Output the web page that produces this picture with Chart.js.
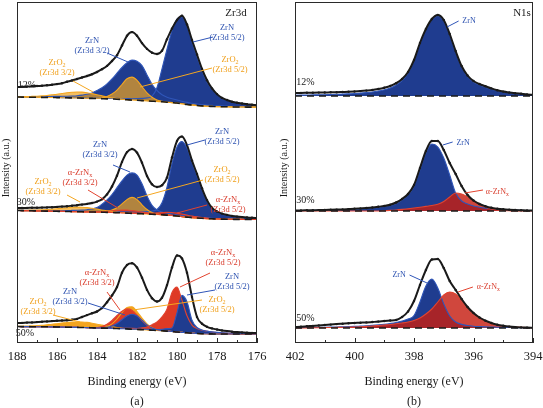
<!DOCTYPE html>
<html>
<head>
<meta charset="utf-8">
<script src="https://cdn.jsdelivr.net/npm/chart.js@4.4.1/dist/chart.umd.min.js"></script>
<style>
    html, body { margin: 0; padding: 0; background: #fff; }
    #wrap { position: relative; width: 543px; height: 408px; }
    canvas { position: absolute; top: 0; }
    #zrChart { left: 0; }
    #nChart { left: 272px; }
</style>
</head>
<body>
<div id="wrap">
    <canvas id="zrChart" width="272" height="408"></canvas>
    <canvas id="nChart" width="271" height="408"></canvas>
</div>
<script>
// Binding energy grids (eV)
const ZR_E = [188, 187.75, 187.5, 187.25, 187, 186.75, 186.5, 186.25, 186, 185.75, 185.5, 185.25,
    185, 184.75, 184.5, 184.25, 184, 183.75, 183.5, 183.25, 183, 182.75, 182.5, 182.25,
    182, 181.75, 181.5, 181.25, 181, 180.75, 180.5, 180.25, 180, 179.75, 179.5, 179.25,
    179, 178.75, 178.5, 178.25, 178, 177.75, 177.5, 177.25, 177, 176.75, 176.5, 176.25, 176];
const N_E = [402, 401.8, 401.6, 401.4, 401.2, 401, 400.8, 400.6, 400.4, 400.2,
    400, 399.8, 399.6, 399.4, 399.2, 399, 398.8, 398.6, 398.4, 398.2,
    398, 397.8, 397.6, 397.4, 397.2, 397, 396.8, 396.6, 396.4, 396.2,
    396, 395.8, 395.6, 395.4, 395.2, 395, 394.8, 394.6, 394.4, 394.2, 394];

const ZR_TICKS = [188, 186, 184, 182, 180, 178, 176];
const N_TICKS = [402, 400, 398, 396, 394];

// Zr3d, 12% : background level + component heights above it
const ZR12_BG = [246, 245.9, 245.8, 245.8, 245.7, 245.6, 245.5, 245.5, 245.4, 245.3, 245.2, 245.1,
    245, 244.9, 244.7, 244.6, 244.5, 244.3, 244.1, 244, 243.8, 243.5, 243.2, 242.9,
    242.7, 242.4, 242.1, 241.8, 241.5, 241.2, 240.8, 240.4, 240, 239.2, 238.5, 238,
    237.5, 237.1, 236.8, 236.6, 236.4, 236.3, 236.2, 236.1, 236, 236, 235.9, 235.9, 235.8];
const ZR12_ENV = [10, 10.3, 10.6, 11, 11.3, 11.7, 12.2, 12.8, 13.5, 14.5, 16, 17.4,
    19, 20.6, 22.3, 24.2, 26.5, 29.5, 33, 38, 44, 54, 64, 68,
    64.5, 57.5, 52, 48.5, 47.5, 51, 63, 74, 83, 88, 80, 65,
    51, 37, 26, 18, 12.5, 8.8, 6.8, 5.2, 4.2, 3.5, 2.9, 2.4, 2];
const ZR12_ZRN52 = [0, 0, 0, 0, 0, 0, 0, 0, 0.1, 0.1, 0.2, 0.2,
    0.2, 0.3, 0.3, 0.4, 0.4, 0.5, 0.6, 0.7, 0.8, 1, 1.2, 1.4,
    1.7, 2.2, 3, 5, 14, 33, 53, 72, 84, 87, 79, 63,
    49, 35, 24.5, 17, 12, 8.5, 6.5, 5, 4, 3.3, 2.7, 2.2, 1.8];
const ZR12_ZRN32 = [0.5, 0.6, 0.6, 0.7, 0.8, 0.9, 1, 1.1, 1.2, 1.4, 1.6, 1.9,
    2.3, 3, 4, 5.5, 8, 11, 15, 20, 26, 32, 37, 40,
    39, 35, 26, 17, 11, 7, 5, 3.8, 3, 2.5, 2.1, 1.8,
    1.5, 1.3, 1.1, 1, 0.9, 0.8, 0.7, 0.6, 0.5, 0.4, 0.4, 0.3, 0.3];
const ZR12_ZRO52 = [0, 0, 0, 0, 0, 0, 0, 0, 0, 0, 0, 0,
    0, 0, 0, 0, 0.2, 0.8, 2.5, 5, 9, 15, 21, 23,
    20, 14, 8, 4, 1.5, 0.5, 0, 0, 0, 0, 0, 0,
    0, 0, 0, 0, 0, 0, 0, 0, 0, 0, 0, 0, 0];
const ZR12_ZRO32 = [0.3, 0.4, 0.6, 0.8, 1.1, 1.5, 2, 2.7, 3.4, 4.2, 5, 5.6,
    6, 6, 5.6, 4.8, 3.8, 2.8, 1.9, 1.2, 0.7, 0.4, 0.2, 0.1,
    0, 0, 0, 0, 0, 0, 0, 0, 0, 0, 0, 0,
    0, 0, 0, 0, 0, 0, 0, 0, 0, 0, 0, 0, 0];

// Zr3d, 30%
const ZR30_BG = [132.5, 132.4, 132.3, 132.2, 132.1, 132, 131.9, 131.8, 131.7, 131.6, 131.5, 131.4,
    131.3, 131.2, 131.1, 131, 130.9, 130.8, 130.6, 130.5, 130.3, 130.1, 129.9, 129.6,
    129.4, 129.2, 129, 128.7, 128.5, 128.2, 127.9, 127.5, 127, 126.4, 125.9, 125.4,
    125, 124.7, 124.4, 124.2, 124, 123.9, 123.8, 123.7, 123.6, 123.6, 123.5, 123.5, 123.5];
const ZR30_ENV = [2.5, 2.6, 2.8, 3, 3.2, 3.4, 3.7, 4, 4.4, 4.8, 5.3, 5.9,
    6.5, 7.2, 8, 9, 10.5, 13, 18, 26, 37, 51, 61, 64.5,
    61, 51, 38, 30, 27.5, 29.5, 37.5, 58, 75, 80, 72, 57,
    44, 30, 18.5, 11, 7.5, 5.5, 4.3, 3.4, 2.8, 2.3, 2, 1.7, 1.5];
const ZR30_ZRN52 = [0, 0, 0, 0, 0, 0, 0, 0, 0.1, 0.1, 0.2, 0.2,
    0.3, 0.3, 0.4, 0.4, 0.5, 0.6, 0.7, 0.8, 0.9, 1, 1.2, 1.4,
    1.6, 1.9, 2.4, 3.2, 5, 12, 28, 52, 69, 75, 69, 55,
    42, 28.5, 17.5, 10.5, 7, 5, 4, 3.2, 2.6, 2.1, 1.8, 1.5, 1.3];
const ZR30_ZRN32 = [0.3, 0.3, 0.4, 0.4, 0.5, 0.5, 0.6, 0.7, 0.8, 0.9, 1, 1.2,
    1.4, 1.7, 2.2, 3, 4.5, 8, 12.5, 18, 25, 32, 38, 40.5,
    38.5, 30, 18, 9, 4.5, 2.8, 2, 1.6, 1.3, 1.1, 1, 0.9,
    0.8, 0.7, 0.6, 0.5, 0.5, 0.4, 0.4, 0.3, 0.3, 0.3, 0.2, 0.2, 0.2];
const ZR30_ZRO52 = [0, 0, 0, 0, 0, 0, 0, 0, 0, 0, 0, 0,
    0, 0, 0, 0, 0, 0.3, 1, 2.5, 5, 9, 13.5, 16,
    14, 9, 4.5, 1.8, 0.6, 0.2, 0, 0, 0, 0, 0, 0,
    0, 0, 0, 0, 0, 0, 0, 0, 0, 0, 0, 0, 0];
const ZR30_ZRO32 = [0.3, 0.4, 0.5, 0.7, 0.9, 1.2, 1.6, 2.1, 2.6, 3.2, 3.8, 4.3,
    4.6, 4.6, 4.3, 3.7, 3, 2.2, 1.5, 0.9, 0.5, 0.3, 0.1, 0,
    0, 0, 0, 0, 0, 0, 0, 0, 0, 0, 0, 0,
    0, 0, 0, 0, 0, 0, 0, 0, 0, 0, 0, 0, 0];
const ZR30_ANA32 = [0, 0, 0, 0, 0, 0, 0, 0, 0, 0, 0, 0,
    0, 0, 0, 0, 0.3, 0.6, 1.1, 1.7, 2.3, 2.8, 3, 2.8,
    2.3, 1.7, 1.1, 0.6, 0.3, 0, 0, 0, 0, 0, 0, 0,
    0, 0, 0, 0, 0, 0, 0, 0, 0, 0, 0, 0, 0];
const ZR30_ANA52 = [0, 0, 0, 0, 0, 0, 0, 0, 0, 0, 0, 0,
    0, 0, 0, 0, 0, 0, 0, 0, 0, 0, 0, 0,
    0.2, 0.4, 0.7, 1.1, 1.6, 2.2, 2.7, 3, 2.9, 2.5, 2, 1.5,
    1.1, 0.8, 0.5, 0.3, 0.2, 0, 0, 0, 0, 0, 0, 0, 0];

// Zr3d, 50%
const ZR50_BG = [16.5, 16.4, 16.4, 16.3, 16.3, 16.2, 16.2, 16.1, 16, 15.9, 15.8, 15.7,
    15.6, 15.5, 15.4, 15.2, 15, 14.9, 14.8, 14.6, 14.5, 14.3, 14.1, 13.8,
    13.5, 13.3, 13.1, 12.8, 12.5, 12.2, 11.9, 11.5, 11, 10.6, 10.2, 9.9,
    9.5, 9.3, 9.2, 9.1, 9, 9, 9, 9, 9, 9, 9, 9, 9];
const ZR50_ENV = [3.5, 3.7, 4, 4.3, 4.6, 5, 5.4, 5.8, 6.2, 6.6, 7, 7.6,
    8.5, 10.5, 12.5, 14.5, 16.5, 20, 26, 33, 41.5, 56, 64, 66,
    62, 52, 40, 32, 29, 33, 46, 64, 76.5, 74, 60, 36,
    16.5, 10, 7, 5.5, 4.5, 3.6, 2.9, 2.3, 1.9, 1.6, 1.3, 1.1, 1];
const ZR50_ZRN52 = [0, 0, 0, 0, 0, 0, 0, 0, 0, 0, 0, 0,
    0, 0, 0, 0, 0, 0, 0, 0, 0, 0, 0, 0,
    0.4, 0.5, 0.6, 0.8, 1, 1.5, 2.5, 3.5, 19, 37, 31, 13,
    6, 3.8, 2.7, 2, 1.6, 1.3, 1, 0.8, 0.7, 0.6, 0.5, 0.4, 0.3];
const ZR50_ZRN32 = [0, 0, 0, 0, 0, 0, 0, 0, 0, 0, 0, 0,
    0, 0, 0, 0, 0, 0.3, 1, 2.5, 5, 9, 13, 15,
    13.5, 9.5, 5, 2.2, 0.8, 0.3, 0, 0, 0, 0, 0, 0,
    0, 0, 0, 0, 0, 0, 0, 0, 0, 0, 0, 0, 0];
const ZR50_ANA52 = [0, 0, 0, 0, 0, 0, 0, 0, 0, 0, 0, 0,
    0, 0, 0, 0, 0, 0, 0, 0, 0.3, 0.5, 0.7, 0.8,
    1, 1.8, 3, 5.5, 8.5, 14, 22, 39, 45, 32, 17, 8,
    5, 3.5, 2.5, 1.9, 1.5, 1.1, 0.8, 0.6, 0.5, 0.4, 0.3, 0.2, 0.2];
const ZR50_ANA32 = [0, 0, 0, 0, 0, 0, 0, 0, 0, 0, 0, 0,
    0, 0, 0, 0, 0.5, 1.5, 4, 8, 13, 17.5, 20, 19,
    14.5, 9, 4.5, 2, 0.8, 0.3, 0, 0, 0, 0, 0, 0,
    0, 0, 0, 0, 0, 0, 0, 0, 0, 0, 0, 0, 0];
const ZR50_ZRO52 = [0, 0, 0, 0, 0, 0, 0, 0, 0, 0, 0, 0,
    0, 0, 0, 0, 0, 0.3, 1.5, 4.5, 9.5, 16, 21.5, 22.5,
    18, 11.5, 6, 2.5, 0.8, 0.2, 0, 0, 0, 0, 0, 0,
    0, 0, 0, 0, 0, 0, 0, 0, 0, 0, 0, 0, 0];
const ZR50_ZRO32 = [0.3, 0.4, 0.6, 0.8, 1.1, 1.5, 2, 2.6, 3.3, 4, 4.7, 5.2,
    5.5, 5.5, 5.2, 4.6, 3.8, 3, 2.2, 1.5, 0.9, 0.5, 0.2, 0.1,
    0, 0, 0, 0, 0, 0, 0, 0, 0, 0, 0, 0,
    0, 0, 0, 0, 0, 0, 0, 0, 0, 0, 0, 0, 0];

// N1s : flat backgrounds (12%, 30%, 50%) + heights above them
const N_BG = [247, 132, 15];
const N12_ENV = [3, 3.1, 3.2, 3.3, 3.4, 3.5, 3.7, 3.8, 4, 4.2,
    4.5, 4.9, 5.4, 6, 7, 8.3, 10, 12.8, 17, 24,
    36, 53, 67, 77, 81, 76, 62, 45, 30, 20.5,
    15, 12, 9.8, 7.6, 5.8, 4.4, 3.5, 2.8, 2.2, 1.6, 1.2];
const N12_ZRN = [0.8, 0.9, 1, 1.1, 1.2, 1.3, 1.5, 1.7, 1.9, 2.2,
    2.5, 2.9, 3.4, 4, 5, 6.3, 8, 11, 15.5, 23,
    35, 52, 66, 76, 80, 75, 61, 44, 29, 19.5,
    14, 11, 8.8, 6.8, 5.2, 4, 3.1, 2.5, 2, 1.5, 1.1];
const N30_ENV = [0.5, 0.6, 0.7, 0.8, 0.9, 1, 1.2, 1.4, 1.6, 1.9,
    2.2, 2.6, 3, 3.5, 4.2, 5, 6.3, 8.5, 12, 17,
    26, 43, 60, 70, 70, 61, 48, 37, 25, 16,
    10.5, 7, 4.8, 3.2, 2.3, 1.7, 1.3, 1, 0.8, 0.6, 0.5];
const N30_ZRN = [0.3, 0.4, 0.5, 0.6, 0.7, 0.8, 0.9, 1.1, 1.3, 1.5,
    1.8, 2.1, 2.5, 3, 3.6, 4.4, 5.6, 7.6, 11, 16,
    24.5, 41, 58, 67, 64, 53, 36, 18, 10, 7,
    5, 3.8, 2.9, 2.2, 1.7, 1.3, 1, 0.8, 0.6, 0.5, 0.4];
const N30_ANA = [0, 0, 0, 0, 0, 0, 0, 0, 0, 0,
    0, 0, 0, 0, 0, 0.3, 0.6, 1, 1.6, 2.3,
    3, 3.8, 4.6, 5.5, 6.8, 9.5, 14, 18, 17, 14,
    10.5, 7, 4, 2, 1, 0.5, 0.2, 0, 0, 0, 0];
const N50_ENV = [1, 1.3, 1.7, 2.1, 2.5, 3, 3.4, 3.9, 4.3, 4.7,
    5, 5.3, 5.6, 6, 6.4, 7, 7.5, 8, 11, 16.5,
    27, 43, 58, 68.5, 69, 60, 47, 38, 29, 21,
    15, 10.5, 7.3, 5, 3.3, 2.2, 1.4, 0.9, 0.6, 0.4, 0.3];
const N50_ZRN = [0.3, 0.4, 0.5, 0.6, 0.7, 0.8, 0.9, 1, 1.2, 1.4,
    1.6, 1.9, 2.2, 2.6, 3.1, 3.7, 4.5, 5.5, 7, 9,
    12.5, 26, 42, 49, 40, 24, 12, 6, 3.6, 2.5,
    1.8, 1.4, 1.1, 0.9, 0.7, 0.6, 0.5, 0.4, 0.3, 0.3, 0.2];
const N50_ANA = [0, 0, 0.1, 0.2, 0.3, 0.4, 0.5, 0.6, 0.7, 0.8,
    0.9, 1.2, 1.6, 2, 2.5, 3, 3.5, 4.2, 5, 6,
    7.5, 10, 14, 19, 26, 33, 36, 34, 28, 21,
    15, 10.5, 7, 4.5, 3, 2, 1.3, 0.9, 0.6, 0.4, 0.3];

// Colours
const INK = '#1a1a1a';
const BLUE = '#1f3c8f';
const BLUE_EDGE = '#2f55b8';
const BLUE_TXT = '#2d52b0';
const ORANGE = '#f3a41f';
const ORANGE_T = 'rgba(240, 163, 28, 0.7)';
const ORANGE_EDGE = '#f4a620';
const ORANGE_TXT = '#f0a01c';
const RED = '#de3a25';
const RED_T = 'rgba(198, 30, 18, 0.82)';
const RED_EDGE = '#e2432e';
const RED_TXT = '#d93c2c';
const SERIF = '"Liberation Serif", "DejaVu Serif", serif';

const ZR_SPECTRA = [
    { bg: ZR12_BG, env: ZR12_ENV, comps: [
        { h: ZR12_ZRN32, fill: BLUE, edge: BLUE_EDGE },
        { h: ZR12_ZRN52, fill: BLUE, edge: BLUE_EDGE },
        { h: ZR12_ZRO32, fill: ORANGE_T, edge: ORANGE_EDGE },
        { h: ZR12_ZRO52, fill: ORANGE_T, edge: ORANGE_EDGE }] },
    { bg: ZR30_BG, env: ZR30_ENV, comps: [
        { h: ZR30_ZRN32, fill: BLUE, edge: BLUE_EDGE },
        { h: ZR30_ZRN52, fill: BLUE, edge: BLUE_EDGE },
        { h: ZR30_ZRO32, fill: ORANGE_T, edge: ORANGE_EDGE },
        { h: ZR30_ZRO52, fill: ORANGE_T, edge: ORANGE_EDGE },
        { h: ZR30_ANA32, fill: RED_T, edge: RED_EDGE },
        { h: ZR30_ANA52, fill: RED_T, edge: RED_EDGE }] },
    { bg: ZR50_BG, env: ZR50_ENV, comps: [
        { h: ZR50_ZRO32, fill: ORANGE, edge: ORANGE_EDGE },
        { h: ZR50_ZRO52, fill: ORANGE, edge: ORANGE_EDGE },
        { h: ZR50_ANA32, fill: RED, edge: RED_EDGE },
        { h: ZR50_ZRN32, fill: BLUE, edge: BLUE_EDGE },
        { h: ZR50_ANA52, fill: RED, edge: RED_EDGE },
        { h: ZR50_ZRN52, fill: BLUE, edge: BLUE_EDGE }] }
];

const N_SPECTRA = [
    { bg: N_BG[0], env: N12_ENV, comps: [
        { h: N12_ZRN, fill: BLUE, edge: BLUE_EDGE }] },
    { bg: N_BG[1], env: N30_ENV, comps: [
        { h: N30_ZRN, fill: BLUE, edge: BLUE_EDGE },
        { h: N30_ANA, fill: RED_T, edge: RED_EDGE }] },
    { bg: N_BG[2], env: N50_ENV, comps: [
        { h: N50_ZRN, fill: BLUE, edge: BLUE_EDGE },
        { h: N50_ANA, fill: RED_T, edge: RED_EDGE }] }
];

// Annotations in data units (energy, intensity)
const ZR_LABELS = [
    { x: 177.05, y: 330, t: ['Zr3d'], c: INK, size: 11 },
    { x: 187.5, y: 258, t: ['12%'], c: INK, size: 10 },
    { x: 177.5, y: 315, t: ['ZrN', '(Zr3d 5/2)'], c: BLUE_TXT },
    { x: 184.25, y: 302, t: ['ZrN', '(Zr3d 3/2)'], c: BLUE_TXT },
    { x: 186, y: 280, t: ['ZrO_2', '(Zr3d 3/2)'], c: ORANGE_TXT },
    { x: 177.35, y: 283, t: ['ZrO_2', '(Zr3d 5/2)'], c: ORANGE_TXT },
    { x: 187.55, y: 141, t: ['30%'], c: INK, size: 10 },
    { x: 177.75, y: 211, t: ['ZrN', '(Zr3d 5/2)'], c: BLUE_TXT },
    { x: 183.85, y: 198, t: ['ZrN', '(Zr3d 3/2)'], c: BLUE_TXT },
    { x: 184.85, y: 170, t: ['α-ZrN_x', '(Zr3d 3/2)'], c: RED_TXT },
    { x: 186.7, y: 161, t: ['ZrO_2', '(Zr3d 3/2)'], c: ORANGE_TXT },
    { x: 177.75, y: 173, t: ['ZrO_2', '(Zr3d 5/2)'], c: ORANGE_TXT },
    { x: 177.45, y: 143, t: ['α-ZrN_x', '(Zr3d 5/2)'], c: RED_TXT },
    { x: 187.6, y: 10, t: ['50%'], c: INK, size: 10 },
    { x: 177.7, y: 90, t: ['α-ZrN_x', '(Zr3d 5/2)'], c: RED_TXT },
    { x: 177.25, y: 66, t: ['ZrN', '(Zr3d 5/2)'], c: BLUE_TXT },
    { x: 178, y: 43, t: ['ZrO_2', '(Zr3d 5/2)'], c: ORANGE_TXT },
    { x: 184, y: 70, t: ['α-ZrN_x', '(Zr3d 3/2)'], c: RED_TXT },
    { x: 185.35, y: 51, t: ['ZrN', '(Zr3d 3/2)'], c: BLUE_TXT },
    { x: 186.95, y: 41, t: ['ZrO_2', '(Zr3d 3/2)'], c: ORANGE_TXT }
];
const ZR_LEADERS = [
    [179.2, 301, 178.2, 306, BLUE_EDGE], [183.5, 290, 182.45, 281, BLUE_EDGE],
    [185.2, 262, 184.2, 251, ORANGE_EDGE], [178.25, 275, 181.85, 256, ORANGE_EDGE],
    [179.5, 198, 178.6, 203, BLUE_EDGE], [183.2, 178, 182.35, 171, BLUE_EDGE],
    [184.45, 153, 182.95, 135, RED_EDGE], [185.5, 148, 184.85, 141, ORANGE_EDGE],
    [178.7, 163, 182, 145, ORANGE_EDGE], [178.5, 138, 180, 130, RED_EDGE],
    [178.35, 70, 179.85, 56, RED_EDGE], [178.1, 53, 179.5, 48, BLUE_EDGE],
    [178.75, 43, 182.2, 33, ORANGE_EDGE], [183.5, 51, 182.85, 33, RED_EDGE],
    [184.45, 40, 182.6, 28, BLUE_EDGE], [186.2, 28, 184.85, 21, ORANGE_EDGE]
];
const N_LABELS = [
    { x: 394.37, y: 330, t: ['N1s'], c: INK, size: 11 },
    { x: 401.65, y: 261, t: ['12%'], c: INK, size: 10 },
    { x: 396.15, y: 322, t: ['ZrN'], c: BLUE_TXT, size: 8 },
    { x: 401.65, y: 143, t: ['30%'], c: INK, size: 10 },
    { x: 396.35, y: 200, t: ['ZrN'], c: BLUE_TXT, size: 8 },
    { x: 395.2, y: 151, t: ['α-ZrN_x'], c: RED_TXT, size: 8 },
    { x: 401.65, y: 25, t: ['50%'], c: INK, size: 10 },
    { x: 398.5, y: 68, t: ['ZrN'], c: BLUE_TXT, size: 8 },
    { x: 395.5, y: 56, t: ['α-ZrN_x'], c: RED_TXT, size: 8 }
];
const N_LEADERS = [
    [396.89, 316, 396.5, 322, BLUE_EDGE],
    [397.03, 198, 396.7, 201, BLUE_EDGE],
    [396.29, 150, 395.68, 153, RED_EDGE],
    [398.15, 68, 397.56, 60, BLUE_EDGE],
    [396.52, 51, 396.02, 56, RED_EDGE]
];

/**
 * Builds {x, y} points: background level plus an optional height array.
 */
function pts(xs, bg, h) {
    return xs.map((x, i) => {
        const base = Array.isArray(bg) ? bg[i] : bg;
        return { x: x, y: base + (h ? (h[i] || 0) : 0) };
    });
}

/**
 * Builds datasets for stacked spectra: fills, outlines, dashed background, envelope and data dots.
 * Lower `order` is drawn on top, so later ranks get smaller order values.
 */
function buildDatasets(xs, spectra) {
    const sets = [];
    let rank = 0;
    const add = (d) => { d.order = 10000 - (rank++); sets.push(d); };

    spectra.forEach(sp => {
        const bgIdx = sets.length;
        sets.push({ data: pts(xs, sp.bg), borderColor: INK, borderWidth: 1.6, borderDash: [7, 5], pointRadius: 0, fill: false });
        sp.comps.forEach(c => add({ data: pts(xs, sp.bg, c.h), borderColor: 'rgba(0,0,0,0)', borderWidth: 1, backgroundColor: c.fill, fill: bgIdx, pointRadius: 0 }));
        sp.comps.forEach(c => add({ data: pts(xs, sp.bg, c.h), borderColor: c.edge, borderWidth: 1.1, fill: false, pointRadius: 0 }));
        sets[bgIdx].order = 10000 - (rank++);
        add({ data: pts(xs, sp.bg, sp.env), borderColor: INK, borderWidth: 2, fill: false, pointRadius: 0 });
        add({ data: pts(xs, sp.bg, sp.env), showLine: false, pointRadius: 1.2, pointBackgroundColor: INK, pointBorderWidth: 0 });
    });
    return sets;
}

/**
 * Draws text with an optional subscript part marked by "_".
 */
function drawRich(ctx, text, x, y, size) {
    const parts = text.split('_');
    const main = parts[0];
    const sub = parts[1] || '';
    ctx.font = size + 'px ' + SERIF;
    const w1 = ctx.measureText(main).width;
    ctx.font = (size * 0.72) + 'px ' + SERIF;
    const w2 = sub ? ctx.measureText(sub).width : 0;
    const x0 = x - (w1 + w2) / 2;
    ctx.textAlign = 'left';
    ctx.font = size + 'px ' + SERIF;
    ctx.fillText(main, x0, y);
    if (sub) {
        ctx.font = (size * 0.72) + 'px ' + SERIF;
        ctx.fillText(sub, x0 + w1, y + size * 0.3);
    }
}

/**
 * Frame, inward ticks, tick labels, axis titles and annotations for one panel.
 */
function panelPlugin(cfg) {
    return {
        id: 'panelDecor',
        afterDraw(chart) {
            const ctx = chart.ctx;
            const a = chart.chartArea;
            const xs = chart.scales.x;
            const ys = chart.scales.y;
            ctx.save();

            // leaders under the text
            ctx.lineWidth = 1;
            cfg.leaders.forEach(l => {
                ctx.strokeStyle = l[4];
                ctx.beginPath();
                ctx.moveTo(xs.getPixelForValue(l[0]), ys.getPixelForValue(l[1]));
                ctx.lineTo(xs.getPixelForValue(l[2]), ys.getPixelForValue(l[3]));
                ctx.stroke();
            });

            ctx.textBaseline = 'middle';
            cfg.labels.forEach(lb => {
                const size = lb.size || 8.5;
                const px = xs.getPixelForValue(lb.x);
                const py = ys.getPixelForValue(lb.y);
                ctx.fillStyle = lb.c;
                lb.t.forEach((line, k) => drawRich(ctx, line, px, py + k * 10, size));
            });

            // frame
            ctx.strokeStyle = '#2a2a2a';
            ctx.lineWidth = 1;
            ctx.strokeRect(a.left + 0.5, a.top + 0.5, a.right - a.left - 1, a.bottom - a.top - 1);

            // inward ticks every 1 eV
            for (let v = cfg.min; v <= cfg.max; v++) {
                const px = Math.round(xs.getPixelForValue(v)) + 0.5;
                const len = (v % 2 === 0) ? 5 : 3;
                ctx.beginPath();
                ctx.moveTo(px, a.bottom);
                ctx.lineTo(px, a.bottom - len);
                ctx.stroke();
            }

            ctx.fillStyle = INK;
            ctx.textAlign = 'center';
            ctx.font = '12.5px ' + SERIF;
            cfg.ticks.forEach(t => ctx.fillText(String(t), xs.getPixelForValue(t), a.bottom + 14));

            const cx = (a.left + a.right) / 2;
            ctx.font = '12px ' + SERIF;
            ctx.fillText('Binding energy (eV)', cx, 382);
            ctx.fillText(cfg.tag, cx, 402);

            ctx.translate(cfg.yTitleX, 168);
            ctx.rotate(-Math.PI / 2);
            ctx.font = '10px ' + SERIF;
            ctx.fillText('Intensity (a.u.)', 0, 0);
            ctx.restore();
        }
    };
}

function makeChart(canvasId, xs, spectra, range, padding, decor) {
    const ctx = document.getElementById(canvasId);
    return new Chart(ctx, {
        type: 'line',
        data: { datasets: buildDatasets(xs, spectra) },
        options: {
            responsive: false,
            animation: false,
            devicePixelRatio: 1,
            layout: { padding: padding, autoPadding: false },
            elements: { line: { cubicInterpolationMode: 'monotone' }, point: { radius: 0 } },
            plugins: { legend: { display: false }, tooltip: { enabled: false } },
            scales: {
                x: { type: 'linear', reverse: true, min: range[0], max: range[1], display: false },
                y: { min: 0, max: 341, display: false }
            }
        },
        plugins: [panelPlugin(decor)]
    });
}

makeChart('zrChart', ZR_E, ZR_SPECTRA, [176, 188], { left: 17, right: 15, top: 2, bottom: 65 },
    { min: 176, max: 188, ticks: ZR_TICKS, tag: '(a)', yTitleX: 6, labels: ZR_LABELS, leaders: ZR_LEADERS });
makeChart('nChart', N_E, N_SPECTRA, [394, 402], { left: 23, right: 10, top: 2, bottom: 65 },
    { min: 394, max: 402, ticks: N_TICKS, tag: '(b)', yTitleX: 12, labels: N_LABELS, leaders: N_LEADERS });
</script>
</body>
</html>
